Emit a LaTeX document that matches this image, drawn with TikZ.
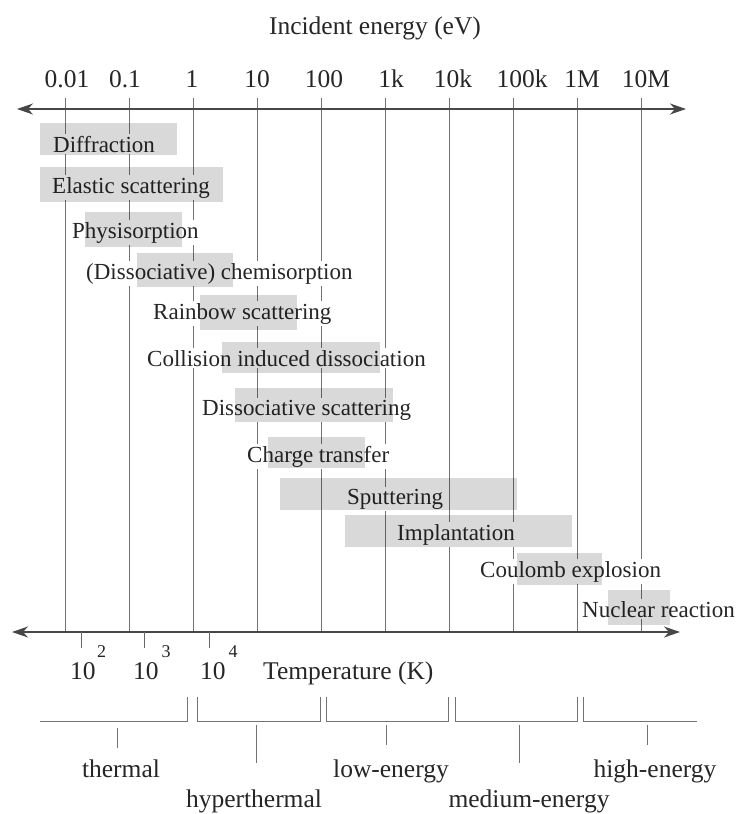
\documentclass[tikz,border=0pt]{standalone}
\usepackage{fontspec}
\setmainfont{Liberation Serif}
\usetikzlibrary{arrows.meta}
\begin{document}
\begin{tikzpicture}[x=1pt,y=-1pt,
  vline/.style={draw=black!55, line width=1pt},
  axisline/.style={draw=black!72, line width=1.4pt,
    {Stealth[length=16pt,width=11pt,inset=5pt]}-{Stealth[length=16pt,width=11pt,inset=5pt]}},
  axlab/.style={font=\fontsize{25.5}{30}\selectfont, inner sep=0pt, text=black!85},
  proc/.style={font=\fontsize{23}{27}\selectfont, fill=white, inner xsep=1.5pt, inner ysep=2pt, anchor=base west, text=black!85},
  shade/.style={fill=black, fill opacity=0.15, draw=none},
  brk/.style={draw=black!55, line width=1pt},
  tick/.style={draw=black!60, line width=1pt},
  supx/.style={}]
\useasboundingbox (0,0) rectangle (738,814);

% title
\node[axlab, anchor=base] (title) at (375,34) {Incident energy (eV)};

% vertical lines and energy labels
\foreach \i/\lab/\lx in {0/0.01/67, 1/0.1/125, 2/1/192, 3/10/257, 4/100/324, 5/1k/391, 6/10k/453, 7/100k/522, 8/1M/582, 9/10M/646} {
  \coordinate (t\i) at ({65+64*\i},98);
  \coordinate (b\i) at ({65+64*\i},632);
  \draw[vline] (t\i) -- (b\i);
  \node[axlab, anchor=base] (e\i) at (\lx,87) {\lab};
}

% axes
\coordinate (tal) at (17,109);
\coordinate (tar) at (686,109);
\draw[axisline] (tal) -- (tar);
\coordinate (bal) at (12,632);
\coordinate (bar) at (680,632);
\draw[axisline] (bal) -- (bar);

% process labels (white background hides lines)
\node[proc] (p1) at (51.5,152) {Diffraction};
\node[proc] (p2) at (50.5,193) {Elastic scattering};
\node[proc] (p3) at (70.5,238) {Physisorption};
\node[proc] (p4) at (84.5,279) {(Dissociative) chemisorption};
\node[proc] (p5) at (151.5,319) {Rainbow scattering};
\node[proc] (p6) at (145.5,366) {Collision induced dissociation};
\node[proc] (p7) at (200.5,415) {Dissociative scattering};
\node[proc] (p8) at (245.5,462) {Charge transfer};
\node[proc] (p9) at (345.5,504) {Sputtering};
\node[proc] (p10) at (395.5,540) {Implantation};
\node[proc] (p11) at (478.5,577) {Coulomb explosion};
\node[proc] (p12) at (580.5,617) {Nuclear reaction};

% shaded energy ranges
\fill[shade] (40,123) rectangle (177,155);
\fill[shade] (40,167) rectangle (223,202);
\fill[shade] (85,212) rectangle (182,247);
\fill[shade] (137,253) rectangle (233,287);
\fill[shade] (200,295) rectangle (297,330);
\fill[shade] (222,342) rectangle (380,373);
\fill[shade] (235,388) rectangle (393,422);
\fill[shade] (268,437) rectangle (365,468);
\fill[shade] (280,478) rectangle (517,510);
\fill[shade] (345,515) rectangle (572,547);
\fill[shade] (517,553) rectangle (602,585);
\fill[shade] (608,590) rectangle (670,625);

% temperature ticks and labels
\foreach \k/\x in {a/81, b/144, c/209} {
  \coordinate (tk\k1) at (\x,632);
  \coordinate (tk\k2) at (\x,648);
  \draw[tick] (tk\k1) -- (tk\k2);
}
\node[axlab, anchor=base west] (T2) at (70,679) {10\kern1.5pt\raisebox{0.85em}{\fontsize{18}{18}\selectfont 2}};
\node[axlab, anchor=base west] (T3) at (133,679) {10\kern3pt\raisebox{0.85em}{\fontsize{18}{18}\selectfont 3}};
\node[axlab, anchor=base west] (T4) at (200,679) {10\kern3pt\raisebox{0.85em}{\fontsize{18}{18}\selectfont 4}};
\node[axlab, anchor=base west] (Tlab) at (263,679) {Temperature (K)};

% regime brackets
\coordinate (r1a) at (40,721); \coordinate (r1b) at (187,721); \coordinate (r1c) at (187,697);
\draw[brk] (r1a) -- (r1b) -- (r1c);
\coordinate (r2a) at (197,697); \coordinate (r2b) at (197,721); \coordinate (r2c) at (320,721); \coordinate (r2d) at (320,697);
\draw[brk] (r2a) -- (r2b) -- (r2c) -- (r2d);
\coordinate (r3a) at (326,697); \coordinate (r3b) at (326,721); \coordinate (r3c) at (448,721); \coordinate (r3d) at (448,697);
\draw[brk] (r3a) -- (r3b) -- (r3c) -- (r3d);
\coordinate (r4a) at (455,697); \coordinate (r4b) at (455,721); \coordinate (r4c) at (577,721); \coordinate (r4d) at (577,697);
\draw[brk] (r4a) -- (r4b) -- (r4c) -- (r4d);
\coordinate (r5a) at (583,697); \coordinate (r5b) at (583,721); \coordinate (r5c) at (697,721);
\draw[brk] (r5a) -- (r5b) -- (r5c);

% stems
\foreach \n/\x/\ya/\yb in {1/117/728/748, 2/256/725/763, 3/386/725/745, 4/519/725/763, 5/647/725/745} {
  \coordinate (s\n a) at (\x,\ya);
  \coordinate (s\n b) at (\x,\yb);
  \draw[brk] (s\n a) -- (s\n b);
}

% regime labels
\node[axlab, anchor=base] (g1) at (121,777) {thermal};
\node[axlab, anchor=base] (g2) at (254,807) {hyperthermal};
\node[axlab, anchor=base] (g3) at (391,777) {low-energy};
\node[axlab, anchor=base] (g4) at (529,807) {medium-energy};
\node[axlab, anchor=base] (g5) at (655,777) {high-energy};
\end{tikzpicture}
\end{document}
